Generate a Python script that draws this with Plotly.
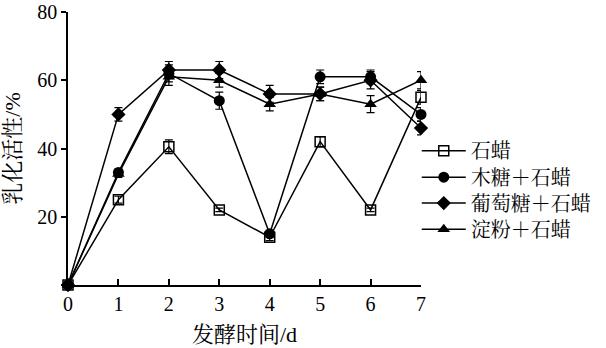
import plotly.graph_objects as go

days = [0, 1, 2, 3, 4, 5, 6, 7]
paraffin = [0, 25, 40.5, 22, 14, 42, 22, 55]
paraffin_err = [0, 1, 2, 0.5, 1, 1.5, 0.5, 2]
xylose = [0, 33, 62, 54, 15, 61, 61, 50]
xylose_err = [0, 1, 2.5, 2.5, 1, 2, 2, 2]
glucose = [0, 50, 63, 63, 56, 56, 60, 46]
glucose_err = [0, 2, 2.5, 2.5, 2.5, 2, 2.5, 2]
starch = [0, 32.5, 61, 60, 53, 56, 53, 60]
starch_err = [0, 1, 2.5, 2, 2, 2, 2.5, 2.5]

names = ["石蜡", "木糖＋石蜡", "葡萄糖＋石蜡", "淀粉＋石蜡"]
x_title = "发酵时间/d"
y_title = "乳化活性/%"

FONT = "Liberation Serif, Noto Serif CJK SC, Noto Sans CJK SC"

series = [
    (names[0], paraffin, paraffin_err, dict(symbol="square-open", size=10, color="black", line=dict(width=1.5, color="black"))),
    (names[1], xylose, xylose_err, dict(symbol="circle", size=11, color="black")),
    (names[2], glucose, glucose_err, dict(symbol="diamond", size=11, color="black")),
    (names[3], starch, starch_err, dict(symbol="triangle-up", size=11, color="black")),
]

# legend row centres, as fractions of plot height from bottom
legend_rows = [0.492, 0.395, 0.300, 0.204]
legend_ids = ["legend", "legend2", "legend3", "legend4"]

fig = go.Figure()
for (name, vals, err, marker), lid in zip(series, legend_ids):
    fig.add_trace(go.Scatter(
        x=days, y=vals, name=name, mode="lines+markers",
        line=dict(color="black", width=1.5),
        marker=marker,
        error_y=dict(type="data", array=err, color="black", thickness=1.2, width=4),
        cliponaxis=False, legend=lid,
    ))

layout_legends = {}
for lid, yy in zip(legend_ids, legend_rows):
    layout_legends[lid] = dict(x=0.988, y=yy, xanchor="left", yanchor="middle",
                               font=dict(size=20, family=FONT),
                               bgcolor="rgba(0,0,0,0)", itemwidth=44)

fig.update_layout(
    width=606, height=348,
    margin=dict(l=68, r=185, t=12, b=63, autoexpand=False),
    paper_bgcolor="white", plot_bgcolor="white",
    font=dict(family=FONT, size=20, color="black"),
    showlegend=True,
    **layout_legends,
)
fig.update_xaxes(
    range=[0, 7], tickvals=days, ticks="inside", ticklen=6, tickwidth=1.5,
    tickcolor="black", showline=True, linecolor="black", linewidth=1.5,
    showgrid=False, zeroline=False, ticklabeloverflow="allow", automargin=False,
    title=dict(text=x_title, font=dict(size=22), standoff=13),
)
fig.update_yaxes(
    range=[0, 80], tickvals=[0, 20, 40, 60, 80], ticktext=["", "20", "40", "60", "80"],
    ticks="outside", ticklen=5, tickwidth=1.5,
    tickcolor="black", showline=True, linecolor="black", linewidth=1.5,
    showgrid=False, zeroline=False, ticklabeloverflow="allow", automargin=False,
    title=dict(text=y_title, font=dict(size=22), standoff=11),
)

fig.write_html("out.html")
